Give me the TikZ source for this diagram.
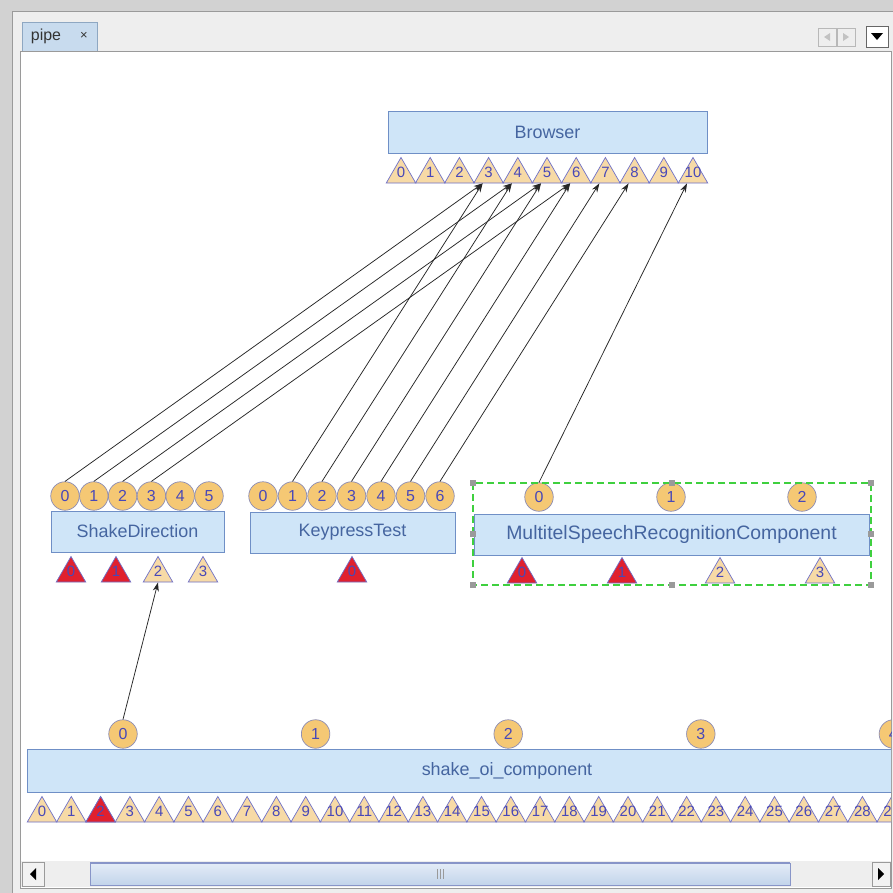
\documentclass[tikz,border=0pt]{standalone}
\usepackage{fontspec}
\setmainfont{Liberation Sans}
\usepackage{tikz}
\usetikzlibrary{arrows.meta,shapes.geometric}
\definecolor{framegray}{HTML}{D2D2D2}
\definecolor{panelgray}{HTML}{EEEEEE}
\definecolor{edgegray}{HTML}{9A9A9A}
\definecolor{tabblue}{HTML}{C8DBEE}
\definecolor{tabline}{HTML}{8EA7C2}
\definecolor{tabtext}{HTML}{333333}
\definecolor{compfill}{HTML}{CFE5F8}
\definecolor{compline}{HTML}{6F8FC6}
\definecolor{comptext}{HTML}{4565A0}
\definecolor{portfill}{HTML}{F5C874}
\definecolor{portline}{HTML}{8C8CB4}
\definecolor{trifill}{HTML}{F7DAA6}
\definecolor{triline}{HTML}{6E70C8}
\definecolor{porttext}{HTML}{4848B8}
\definecolor{portred}{HTML}{E0202E}
\definecolor{selgreen}{HTML}{3FD03F}
\definecolor{linkgray}{HTML}{262626}
\definecolor{thumbtop}{HTML}{E4ECF7}
\definecolor{thumbbot}{HTML}{C2D4EA}
\definecolor{thumbline}{HTML}{8895C8}
\newcommand\trinum[1]{\makebox[0pt]{\raisebox{-2.5bp}[0pt][0pt]{#1}}}
\newcommand\circnum[1]{\makebox[0pt]{\raisebox{-5.8bp}[0pt][0pt]{#1}}}
\tikzset{
  comp/.style={rectangle,draw=compline,fill=compfill,text=comptext,inner sep=0pt,
    line width=0.8bp,font=\fontsize{18}{20}\selectfont},
  inport/.style={circle,draw=portline,fill=portfill,inner sep=0pt,minimum size=28.5bp,
    line width=0.7bp,text=porttext,font=\fontsize{16}{17}\selectfont},
  outport/.style={regular polygon,regular polygon sides=3,draw=triline,fill=trifill,
    inner sep=0pt,minimum size=34bp,line width=0.7bp,text=porttext,font=\fontsize{15}{16}\selectfont},
  link/.style={-{Stealth[length=9bp,width=6bp]},draw=linkgray,line width=0.75bp},
  handle/.style={fill=edgegray}
}
\begin{document}
\begin{tikzpicture}[x=1bp,y=-1bp]
\useasboundingbox (0,0) rectangle (893,893);
% window frame and tab
\fill[framegray] (0,0) rectangle (893,893);
\filldraw[fill=panelgray,draw=edgegray] (12,11) rectangle (896,896);
\filldraw[fill=tabblue,draw=tabline] (22,22) rectangle (97,51);
\node[font=\fontsize{16}{18}\selectfont,text=tabtext] (tab) at (46,36) {pipe};
\node[font=\fontsize{13}{14}\selectfont,text=tabtext] (tabx) at (84,36) {×};
\filldraw[fill=white,draw=edgegray] (20,51) rectangle (891,888);
\filldraw[fill=panelgray,draw=edgegray!70] (818,28) rectangle (836,46);
\filldraw[fill=panelgray,draw=edgegray!70] (837,28) rectangle (855,46);
\fill[edgegray!60] (830,33) -- (824,37) -- (830,41) -- cycle;
\fill[edgegray!60] (843,33) -- (849,37) -- (843,41) -- cycle;
\filldraw[fill=white,draw=black!60] (866,26) rectangle (888,47);
\fill[black] (871,33) -- (883,33) -- (877,40) -- cycle;
% diagram
\begin{scope}
\clip (21,52) rectangle (891,860);
\node[comp,minimum width=319bp,minimum height=42bp] (browser) at (547.5,132) {Browser};
\foreach \i in {0,...,10}
  \node[outport] (br\i) at ({401+29.2*\i},174.5) {\trinum{\i}};
\node[comp,minimum width=173bp,minimum height=41bp] (shake) at (137.5,531.5) {ShakeDirection};
\foreach \i in {0,...,5}
  \node[inport] (sdc\i) at ({65+28.8*\i},496) {\circnum{\i}};
\foreach \i/\x/\f in {0/71/portred,1/116/portred,2/158/trifill,3/203/trifill}
  \node[outport,fill=\f] (sdt\i) at (\x,573.5) {\trinum{\i}};
\node[comp,minimum width=205bp,minimum height=41bp] (keypress) at (352.5,532.5) {KeypressTest};
\foreach \i in {0,...,6}
  \node[inport] (kpc\i) at ({263+29.5*\i},496) {\circnum{\i}};
\node[outport,fill=portred] (kpt0) at (352,573.5) {\trinum{0}};
\node[comp,minimum width=395bp,minimum height=41bp,font=\fontsize{19.5}{21}\selectfont]
  (multitel) at (671.5,534.5) {MultitelSpeechRecognitionComponent};
\foreach \i/\x in {0/539,1/671,2/802}
  \node[inport] (mtc\i) at (\x,497) {\circnum{\i}};
\foreach \i/\x/\f in {0/522/portred,1/622/portred,2/720/trifill,3/820/trifill}
  \node[outport,fill=\f] (mtt\i) at (\x,574.5) {\trinum{\i}};
% selection frame
\draw[draw=selgreen,line width=1.1bp,dash pattern=on 7bp off 4bp] (473,483) rectangle (871,585);
\foreach \x/\y in {473/483,672/483,871/483,473/534,871/534,473/585,672/585,871/585}
  \fill[handle] (\x-3,\y-3) rectangle (\x+3,\y+3);
\node[comp,minimum width=960bp,minimum height=43bp] (oicomp) at (507,770.5) {shake\_oi\_component};
\foreach \i in {0,...,4}
  \node[inport] (oic\i) at ({123+192.6*\i},734) {\circnum{\i}};
\foreach \i in {0,...,29}
  \node[outport] (oit\i) at ({42+29.3*\i},813.5) {\trinum{\i}};
\node[outport,fill=portred] at (oit2) {\trinum{2}};
% links
\foreach \i/\j in {0/3,1/4,2/5,3/6}
  \draw[link] (sdc\i.north) -- ([xshift=-6bp]br\j.south);
\foreach \i/\j in {1/3,2/4,3/5,4/6,5/7,6/8}
  \draw[link] (kpc\i.north) -- ([xshift=-6bp]br\j.south);
\draw[link] (mtc0.north) -- ([xshift=-6bp]br10.south);
\draw[link] (oic0.north) -- (sdt2.south);
\end{scope}
% scrollbar
\fill[panelgray] (21,861) rectangle (891,887);
\filldraw[fill=white!95!black,draw=edgegray] (22,862) rectangle (44,886);
\fill[black] (36,868) -- (30,874) -- (36,880) -- cycle;
\shade[top color=thumbtop,bottom color=thumbbot,draw=thumbline] (90,863) rectangle (790,885);
\draw[thumbline,line width=1.2bp] (90,863) -- (790,863);
\foreach \x in {437,440,443}
  \draw[edgegray] (\x,869) -- (\x,879);
\filldraw[fill=white!95!black,draw=edgegray] (872,862) rectangle (890,886);
\fill[black] (878,868) -- (884,874) -- (878,880) -- cycle;
\end{tikzpicture}
\end{document}
